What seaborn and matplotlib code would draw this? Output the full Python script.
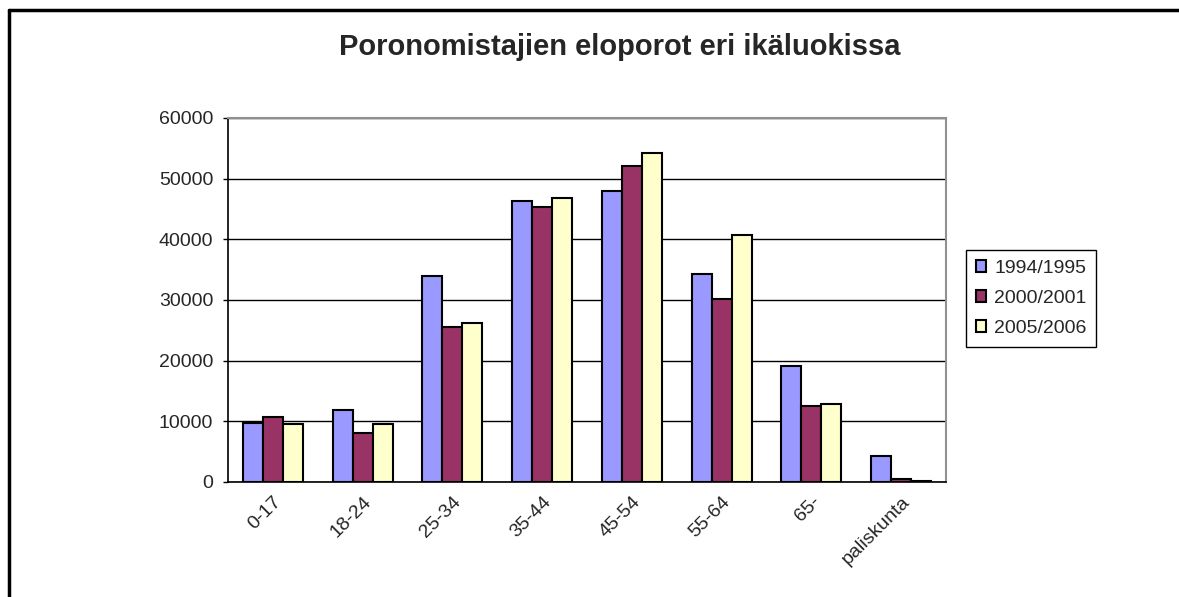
import matplotlib
matplotlib.use("Agg")
import matplotlib.pyplot as plt
from matplotlib.lines import Line2D
from matplotlib.ticker import FixedLocator
import seaborn as sns
import pandas as pd

# Age classes and reindeer counts per herding year
age_classes = ["0-17", "18-24", "25-34", "35-44", "45-54", "55-64", "65-", "paliskunta"]
years = ["1994/1995", "2000/2001", "2005/2006"]
counts_1994 = [9700, 11900, 34000, 46300, 48000, 34300, 19100, 4300]
counts_2000 = [10700, 8100, 25600, 45400, 52100, 30200, 12500, 500]
counts_2005 = [9600, 9600, 26200, 46800, 54200, 40700, 12800, 200]
y_ticks = [0, 10000, 20000, 30000, 40000, 50000, 60000]

colors = ["#9999FF", "#993366", "#FFFFCC"]

df = pd.DataFrame({
    "ikäluokka": age_classes * 3,
    "vuosi": [years[0]] * 8 + [years[1]] * 8 + [years[2]] * 8,
    "eloporot": counts_1994 + counts_2000 + counts_2005,
})

sns.set_style("white")
plt.rcParams["font.family"] = ["Liberation Sans", "DejaVu Sans"]

fig = plt.figure(figsize=(11.79, 5.97), dpi=100)
ax = fig.add_axes([228 / 1179, 1 - 482 / 597, (946 - 228) / 1179, (482 - 118) / 597])

sns.barplot(data=df, x="ikäluokka", y="eloporot", hue="vuosi", order=age_classes,
            hue_order=years, palette=colors, width=0.667, gap=0, saturation=1,
            edgecolor="black", linewidth=1.5, ax=ax, legend=True, errorbar=None)

ax.set_xlim(-0.5, len(age_classes) - 0.5)
ax.set_ylim(0, 60000)
ax.set_yticks(y_ticks)
ax.set_yticklabels([str(v) for v in y_ticks], fontsize=14)
ax.yaxis.grid(True, color="black", linewidth=1)
ax.set_axisbelow(True)
ax.set_xlabel("")
ax.set_ylabel("")

# category labels at centres, tick marks between categories
ax.set_xticks(range(len(age_classes)))
ax.set_xticklabels(age_classes, rotation=45, ha="right", va="top",
                   rotation_mode="anchor", fontsize=14)
ax.tick_params(axis="x", which="major", length=0, pad=8)
ax.xaxis.set_minor_locator(FixedLocator([i - 0.5 for i in range(len(age_classes) + 1)]))
ax.tick_params(axis="x", which="minor", length=3.6, width=1, color="black", direction="out")
ax.tick_params(axis="y", length=3.6, width=1, color="black", direction="out", left=True, pad=7)

for side in ("left", "bottom"):
    ax.spines[side].set_color("black")
    ax.spines[side].set_linewidth(1.2)
for side in ("top", "right"):
    ax.spines[side].set_color("#909090")
    ax.spines[side].set_linewidth(1.5)

handles, labels = ax.get_legend_handles_labels()
ax.legend(handles, labels, loc="center left", bbox_to_anchor=(966 / 1179, 0.5),
          bbox_transform=fig.transFigure, fontsize=14, frameon=True, fancybox=False,
          edgecolor="black", framealpha=1, handlelength=0.55, handleheight=0.55,
          handletextpad=0.4, labelspacing=0.68, borderpad=0.5, borderaxespad=0)
ax.get_legend().get_frame().set_linewidth(1)

fig.text(619.5 / 1179, 1 - 47 / 597, "Poronomistajien eloporot eri ikäluokissa",
         ha="center", va="center", fontsize=21, fontweight="bold")

# outer chart frame: top and left edges
fig.add_artist(Line2D([9 / 1179, 1], [1 - 10 / 597, 1 - 10 / 597],
                      transform=fig.transFigure, color="black", linewidth=2.5))
fig.add_artist(Line2D([9 / 1179, 9 / 1179], [0, 1 - 10 / 597],
                      transform=fig.transFigure, color="black", linewidth=2.5))

fig.savefig("out.png", dpi=100, facecolor="white")
